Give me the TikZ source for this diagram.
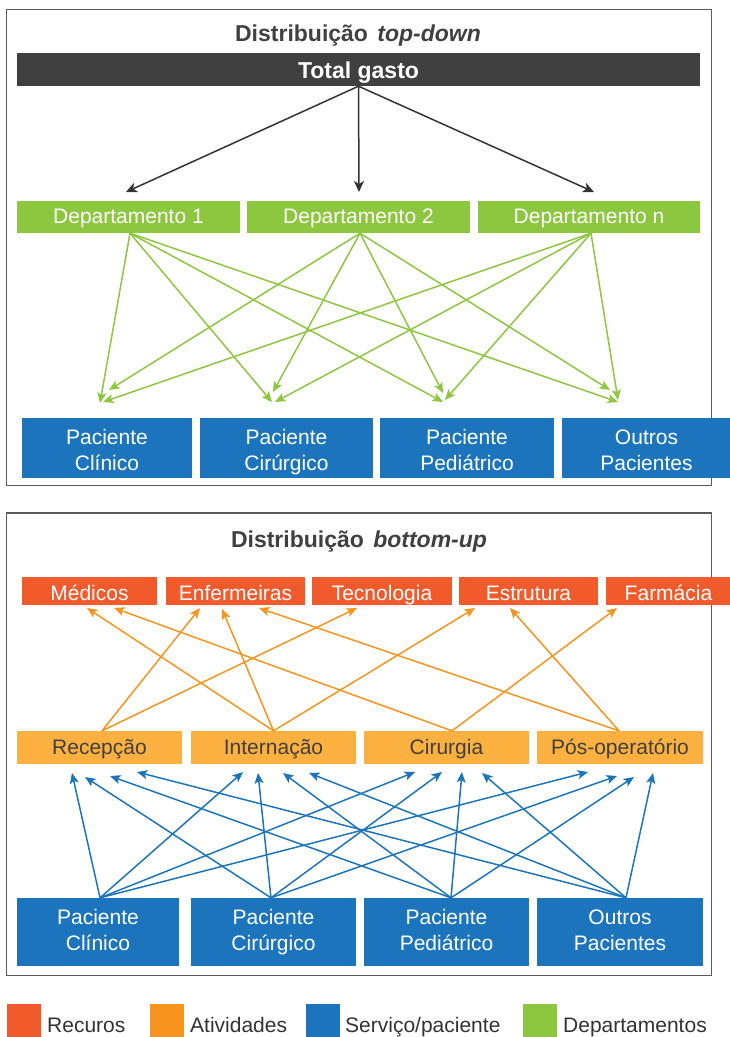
\documentclass[tikz,border=0pt]{standalone}
\usepackage{fontspec}
\setmainfont{Liberation Sans}
\usetikzlibrary{arrows.meta}

\definecolor{bardark}{HTML}{404041}
\definecolor{deptgreen}{HTML}{8DC63F}
\definecolor{patblue}{HTML}{1C75BC}
\definecolor{resred}{HTML}{F15A2B}
\definecolor{actorange}{HTML}{FBB040}
\definecolor{legorange}{HTML}{F7941D}
\definecolor{titlegray}{HTML}{404040}
\definecolor{framegray}{HTML}{5A5A5A}

% two-line label with fixed first-line height and last-line depth
\newcommand{\twolines}[4]{\rule{0pt}{#3}#1\\#2\rule[-#4]{0pt}{#4}}

\tikzset{
  frame/.style={draw=framegray, line width=1.2pt},
  paneltitle/.style={anchor=base, inner sep=0pt, text=titlegray, font=\fontsize{23}{26}\selectfont\bfseries},
  box/.style={draw=none, inner sep=0pt, align=center, font=\fontsize{21}{26}\selectfont},
  totalbox/.style={box, fill=bardark, text=white, font=\fontsize{23}{26}\selectfont\bfseries,
    text height=17pt, text depth=0pt},
  deptbox/.style={box, fill=deptgreen, text=white, text height=12.5pt, text depth=0pt},
  patbox/.style={box, fill=patblue, text=white},
  resbox/.style={box, fill=resred, text=white, text height=18.5pt, text depth=0pt},
  actbox/.style={box, fill=actorange, text=titlegray, text height=14pt, text depth=0pt},
  legsq/.style={draw=none, inner sep=0pt, minimum width=34pt, minimum height=34pt},
  legtext/.style={anchor=base west, inner sep=0pt, text=black!80, font=\fontsize{21}{25}\selectfont},
  smalltip/.tip={Stealth[length=10.5pt, width=9pt, inset=2.5pt]},
  bigtip/.tip={Stealth[length=11pt, width=10pt, inset=3pt]},
  blackarrow/.style={draw=black!80, line width=1.5pt, -{bigtip}},
  greenarrow/.style={draw=deptgreen, line width=1.5pt, -{smalltip}},
  orangearrow/.style={draw=legorange, line width=1.5pt, -{smalltip}},
  bluearrow/.style={draw=patblue, line width=1.5pt, -{smalltip}},
}

\begin{document}
\begin{tikzpicture}[x=1pt, y=-1pt]
\useasboundingbox (0,0) rectangle (730,1037);

% ---------- top-down panel ----------
\draw[frame] (6.5,9.5) rectangle (711.5,485.5);
\node[paneltitle] (ttitle) at (358,41.5) {Distribuição\hspace{3pt} \textit{top-down}};

\node[totalbox, minimum width=683pt, minimum height=33pt] (tg) at (358.5,69.5) {Total gasto};

\node[deptbox, minimum width=223pt, minimum height=32pt] (d1) at (128.5,217) {Departamento 1};
\node[deptbox, minimum width=223pt, minimum height=32pt] (d2) at (358.5,217) {Departamento 2};
\node[deptbox, minimum width=222pt, minimum height=32pt] (dn) at (589,217) {Departamento n};

\node[patbox, minimum width=170pt, minimum height=60pt] (p1) at (107,448) {\twolines{Paciente}{Clínico}{23pt}{5pt}};
\node[patbox, minimum width=173pt, minimum height=60pt] (p2) at (286.5,448) {\twolines{Paciente}{Cirúrgico}{23pt}{5pt}};
\node[patbox, minimum width=174pt, minimum height=60pt] (p3) at (467,448) {\twolines{Paciente}{Pediátrico}{23pt}{5pt}};
\node[patbox, minimum width=169pt, minimum height=60pt] (p4) at (646.5,448) {\twolines{Outros}{Pacientes}{23pt}{5pt}};

% arrow ends above the departments
\coordinate (t1) at (126,192);
\coordinate (t2) at (359,192);
\coordinate (t3) at (594,192);
\draw[blackarrow] (tg.south) -- (t1);
\draw[blackarrow] (tg.south) -- (t2);
\draw[blackarrow] (tg.south) -- (t3);

% arrow ends above the patient groups
\coordinate (g11) at (100,403);
\coordinate (g12) at (272,402);
\coordinate (g13) at (443,402);
\coordinate (g14) at (618,402);
\coordinate (g21) at (109,390);
\coordinate (g22) at (273,392);
\coordinate (g23) at (443,393);
\coordinate (g24) at (610,390);
\coordinate (gn1) at (103,402);
\coordinate (gn2) at (275,402);
\coordinate (gn3) at (445,400);
\coordinate (gn4) at (618,400);

\foreach \k in {1,2,3,4} {
  \draw[greenarrow] ([xshift=1.5pt]d1.south) -- (g1\k);
  \draw[greenarrow] ([xshift=1.5pt]d2.south) -- (g2\k);
  \draw[greenarrow] ([xshift=2pt]dn.south) -- (gn\k);
}

% ---------- bottom-up panel ----------
\draw[frame] (6.5,513) rectangle (711.5,975.5);
\node[paneltitle] (btitle) at (359,547) {Distribuição\hspace{3pt} \textit{bottom-up}};

\node[resbox, minimum width=135pt, minimum height=28pt] (rm) at (89.5,591) {Médicos};
\node[resbox, minimum width=139pt, minimum height=28pt] (re) at (235.5,591) {Enfermeiras};
\node[resbox, minimum width=140pt, minimum height=28pt] (rt) at (382,591) {Tecnologia};
\node[resbox, minimum width=139pt, minimum height=28pt] (rs) at (528.5,591) {Estrutura};
\node[resbox, minimum width=125pt, minimum height=28pt] (rf) at (668.5,591) {Farmácia};

\node[actbox, minimum width=165pt, minimum height=33pt] (ar) at (99.5,747.5) {Recepção};
\node[actbox, minimum width=165pt, minimum height=33pt] (ai) at (273.5,747.5) {Internação};
\node[actbox, minimum width=165pt, minimum height=33pt] (ac) at (446.5,747.5) {Cirurgia};
\node[actbox, minimum width=166pt, minimum height=33pt] (ap) at (620,747.5) {Pós-operatório};

\node[patbox, minimum width=162pt, minimum height=68pt] (b1) at (98,932) {\twolines{Paciente}{Clínico}{16pt}{6pt}};
\node[patbox, minimum width=165pt, minimum height=68pt] (b2) at (273.5,932) {\twolines{Paciente}{Cirúrgico}{16pt}{6pt}};
\node[patbox, minimum width=165pt, minimum height=68pt] (b3) at (446.5,932) {\twolines{Paciente}{Pediátrico}{16pt}{6pt}};
\node[patbox, minimum width=166pt, minimum height=68pt] (b4) at (620,932) {\twolines{Outros}{Pacientes}{16pt}{6pt}};

% activities to resources
\coordinate (m1) at (87,608);
\coordinate (m2) at (114,608);
\coordinate (e1) at (200,608);
\coordinate (e2) at (222,609);
\coordinate (e3) at (259,608);
\coordinate (tc) at (357,608);
\coordinate (s1) at (475,608);
\coordinate (s2) at (510,608);
\coordinate (fa) at (617,608);

\draw[orangearrow] ([xshift=2.5pt]ar.north) -- (e1);
\draw[orangearrow] ([xshift=2.5pt]ar.north) -- (tc);
\draw[orangearrow] (ai.north) -- (m1);
\draw[orangearrow] (ai.north) -- (e2);
\draw[orangearrow] (ai.north) -- (s1);
\draw[orangearrow] ([xshift=5.5pt]ac.north) -- (m2);
\draw[orangearrow] ([xshift=5.5pt]ac.north) -- (fa);
\draw[orangearrow] ([xshift=-1pt]ap.north) -- (e3);
\draw[orangearrow] ([xshift=-1pt]ap.north) -- (s2);

% patient groups to activities
\coordinate (o1) at ([xshift=2pt]b1.north);
\coordinate (o2) at ([xshift=-2.5pt]b2.north);
\coordinate (o3) at ([xshift=4.5pt]b3.north);
\coordinate (o4) at ([xshift=6pt]b4.north);

\coordinate (r1) at (72,773);
\coordinate (r2) at (85,777);
\coordinate (r3) at (110,776);
\coordinate (r4) at (137,772);
\coordinate (i1) at (243,772);
\coordinate (i2) at (258,773);
\coordinate (i3) at (283,773);
\coordinate (i4) at (309,773);
\coordinate (c1) at (415,772);
\coordinate (c2) at (442,772);
\coordinate (c3) at (462,772);
\coordinate (c4) at (482,773);
\coordinate (q1) at (588,772);
\coordinate (q2) at (617,776);
\coordinate (q3) at (634,777);
\coordinate (q4) at (653,773);

\foreach \k in {1,2,3,4} {
  \draw[bluearrow] (o\k) -- (r\k);
  \draw[bluearrow] (o\k) -- (i\k);
  \draw[bluearrow] (o\k) -- (c\k);
  \draw[bluearrow] (o\k) -- (q\k);
}

% ---------- legend ----------
\node[legsq, fill=resred, anchor=north west] (l1) at (7,1004) {};
\node[legtext] (l1t) at (47,1032) {Recuros};
\node[legsq, fill=legorange, anchor=north west] (l2) at (150,1004) {};
\node[legtext] (l2t) at (190,1032) {Atividades};
\node[legsq, fill=patblue, anchor=north west] (l3) at (306,1004) {};
\node[legtext] (l3t) at (345,1032) {Serviço/paciente};
\node[legsq, fill=deptgreen, anchor=north west] (l4) at (523,1004) {};
\node[legtext] (l4t) at (563,1032) {Departamentos};
\end{tikzpicture}
\end{document}
